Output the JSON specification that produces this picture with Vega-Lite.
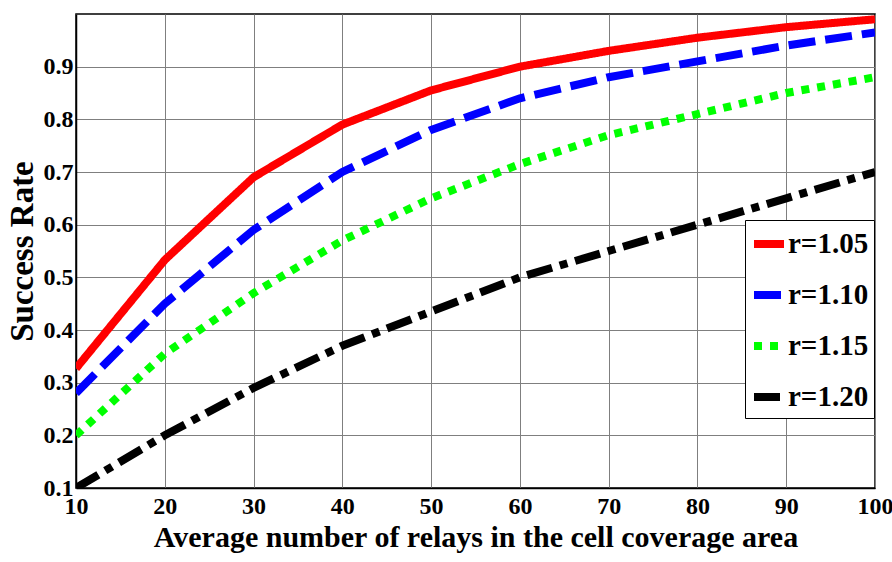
{
  "$schema": "https://vega.github.io/schema/vega-lite/v6.json",
  "width": 799,
  "height": 474,
  "autosize": "none",
  "padding": {"left": 76, "top": 14, "right": 17, "bottom": 74},
  "background": "white",
  "config": {
    "view": {"stroke": "black", "strokeWidth": 1.5},
    "font": "Liberation Serif",
    "axis": {
      "labelFont": "Liberation Serif",
      "labelFontWeight": "bold",
      "labelColor": "black",
      "titleFont": "Liberation Serif",
      "titleFontWeight": "bold",
      "titleColor": "black",
      "gridColor": "#7f7f7f",
      "gridWidth": 1,
      "gridOpacity": 1,
      "domainColor": "black",
      "domainWidth": 1.5,
      "ticks": false,
      "tickSize": 0
    }
  },
  "data": {
    "values": [
      {"x": 10, "y": 0.327, "r": "r=1.05"},
      {"x": 20, "y": 0.533, "r": "r=1.05"},
      {"x": 30, "y": 0.69, "r": "r=1.05"},
      {"x": 40, "y": 0.79, "r": "r=1.05"},
      {"x": 50, "y": 0.855, "r": "r=1.05"},
      {"x": 60, "y": 0.90, "r": "r=1.05"},
      {"x": 70, "y": 0.93, "r": "r=1.05"},
      {"x": 80, "y": 0.955, "r": "r=1.05"},
      {"x": 90, "y": 0.975, "r": "r=1.05"},
      {"x": 100, "y": 0.99, "r": "r=1.05"},
      {"x": 10, "y": 0.28, "r": "r=1.10"},
      {"x": 20, "y": 0.45, "r": "r=1.10"},
      {"x": 30, "y": 0.59, "r": "r=1.10"},
      {"x": 40, "y": 0.70, "r": "r=1.10"},
      {"x": 50, "y": 0.78, "r": "r=1.10"},
      {"x": 60, "y": 0.84, "r": "r=1.10"},
      {"x": 70, "y": 0.88, "r": "r=1.10"},
      {"x": 80, "y": 0.91, "r": "r=1.10"},
      {"x": 90, "y": 0.94, "r": "r=1.10"},
      {"x": 100, "y": 0.965, "r": "r=1.10"},
      {"x": 10, "y": 0.20, "r": "r=1.15"},
      {"x": 20, "y": 0.355, "r": "r=1.15"},
      {"x": 30, "y": 0.47, "r": "r=1.15"},
      {"x": 40, "y": 0.57, "r": "r=1.15"},
      {"x": 50, "y": 0.65, "r": "r=1.15"},
      {"x": 60, "y": 0.715, "r": "r=1.15"},
      {"x": 70, "y": 0.77, "r": "r=1.15"},
      {"x": 80, "y": 0.81, "r": "r=1.15"},
      {"x": 90, "y": 0.85, "r": "r=1.15"},
      {"x": 100, "y": 0.88, "r": "r=1.15"},
      {"x": 10, "y": 0.10, "r": "r=1.20"},
      {"x": 20, "y": 0.20, "r": "r=1.20"},
      {"x": 30, "y": 0.29, "r": "r=1.20"},
      {"x": 40, "y": 0.37, "r": "r=1.20"},
      {"x": 50, "y": 0.435, "r": "r=1.20"},
      {"x": 60, "y": 0.50, "r": "r=1.20"},
      {"x": 70, "y": 0.55, "r": "r=1.20"},
      {"x": 80, "y": 0.60, "r": "r=1.20"},
      {"x": 90, "y": 0.65, "r": "r=1.20"},
      {"x": 100, "y": 0.70, "r": "r=1.20"}
    ]
  },
  "mark": {"type": "line", "strokeWidth": 8, "clip": true, "strokeCap": "butt"},
  "encoding": {
    "x": {
      "field": "x",
      "type": "quantitative",
      "scale": {"domain": [10, 100], "nice": false, "zero": false},
      "axis": {
        "values": [10, 20, 30, 40, 50, 60, 70, 80, 90, 100],
        "title": "Average number of relays in the cell coverage area",
        "titleFontSize": 30,
        "titlePadding": 4,
        "labelFontSize": 24,
        "labelPadding": 6,
        "labelFlush": false
      }
    },
    "y": {
      "field": "y",
      "type": "quantitative",
      "scale": {"domain": [0.1, 1.0], "nice": false, "zero": false},
      "axis": {
        "values": [0.1, 0.2, 0.3, 0.4, 0.5, 0.6, 0.7, 0.8, 0.9],
        "format": ".1f",
        "title": "Success Rate",
        "titleFontSize": 33,
        "titlePadding": 4,
        "labelFontSize": 24,
        "labelPadding": 3,
        "labelFlush": false
      }
    },
    "color": {
      "field": "r",
      "type": "nominal",
      "scale": {
        "domain": ["r=1.05", "r=1.10", "r=1.15", "r=1.20"],
        "range": ["#ff0000", "#0000ff", "#00ff00", "#000000"]
      },
      "legend": {
        "orient": "none",
        "legendX": 669,
        "legendY": 206,
        "title": null,
        "strokeColor": "black",
        "fillColor": "white",
        "padding": 5,
        "labelFont": "Liberation Serif",
        "labelFontWeight": "bold",
        "labelFontSize": 29,
        "labelColor": "black",
        "labelOffset": 0,
        "symbolType": "stroke",
        "symbolSize": 900,
        "symbolStrokeWidth": 8,
        "rowPadding": 16
      }
    },
    "strokeDash": {
      "field": "r",
      "type": "nominal",
      "scale": {
        "domain": ["r=1.05", "r=1.10", "r=1.15", "r=1.20"],
        "range": [[1, 0], [27, 10], [8, 8], [26, 8, 8, 8]]
      }
    }
  }
}
